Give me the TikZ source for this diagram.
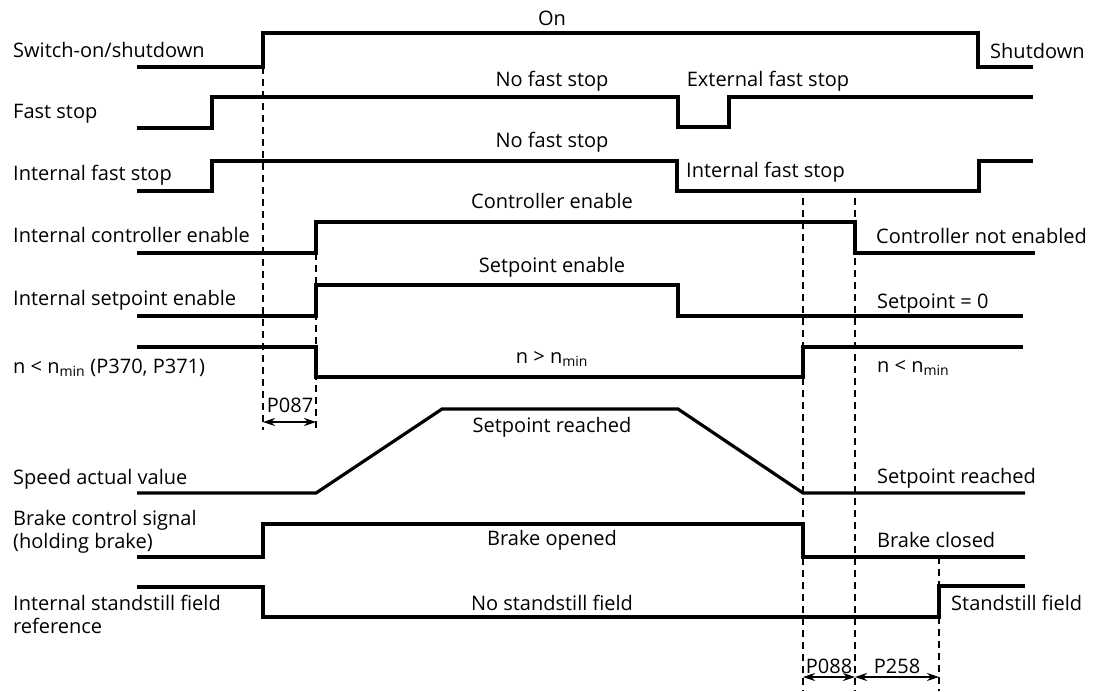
\documentclass[tikz,border=0pt]{standalone}
\usepackage{fontspec}
\setmainfont{Open Sans}
\usetikzlibrary{arrows.meta}

\begin{document}
\begin{tikzpicture}[
    x=1pt, y=-1pt,
    sig/.style={line width=3.2pt, line join=miter},
    guide/.style={line width=1.6pt, dash pattern=on 7pt off 5pt},
    dim/.style={{Stealth[length=12pt,width=8pt]}-{Stealth[length=12pt,width=8pt]}, line width=1.6pt},
    lbl/.style={anchor=base west, inner sep=0pt, font=\fontsize{20}{24}\selectfont},
    txt/.style={anchor=base, inner sep=0pt, font=\fontsize{20}{24}\selectfont}
]
\useasboundingbox (0,0) rectangle (1100,691);

% signal names
\node[lbl] (swName) at (13,57) {Switch-on/shutdown};
\node[lbl] (fsName) at (13,118) {Fast stop};
\node[lbl] (ifsName) at (13,180) {Internal fast stop};
\node[lbl] (iceName) at (13,242) {Internal controller enable};
\node[lbl] (iseName) at (13,305) {Internal setpoint enable};
\node[lbl] (nminName) at (13,373) {n < n\textsubscript{min} (P370, P371)};
\node[lbl] (speedName) at (13,484) {Speed actual value};
\node[lbl] (brakeName) at (13,525) {Brake control signal};
\node[lbl] (brakeName2) at (13,548) {(holding brake)};
\node[lbl] (ssfName) at (13,610) {Internal standstill field};
\node[lbl] (ssfName2) at (13,633) {reference};

% signals
\draw[sig] (137,67) -- (263,67) -- (263,33) -- (978,33) -- (978,67) -- (1033,67);
\draw[sig] (137,128) -- (212,128) -- (212,97) -- (678,97) -- (678,127) -- (729,127) -- (729,97) -- (1033,97);
\draw[sig] (137,191) -- (212,191) -- (212,161) -- (677,161) -- (677,191) -- (979,191) -- (979,161) -- (1033,161);
\draw[sig] (137,253) -- (316,253) -- (316,222) -- (855,222) -- (855,253) -- (1035,253);
\draw[sig] (137,316) -- (316,316) -- (316,285) -- (678,285) -- (678,316) -- (1023,316);
\draw[sig] (137,347) -- (316,347) -- (316,377) -- (803,377) -- (803,347) -- (1023,347);
\draw[sig] (137,493) -- (316,493) -- (442,409) -- (678,409) -- (803,493) -- (1025,493);
\draw[sig] (137,557) -- (263,557) -- (263,524) -- (803,524) -- (803,557) -- (1025,557);
\draw[sig] (137,587) -- (263,587) -- (263,617) -- (939,617) -- (939,586) -- (1025,586);

% state texts
\node[txt] (on) at (552,25) {On};
\node[lbl] (shutdown) at (990,58) {Shutdown};
\node[txt] (noFs) at (552,86) {No fast stop};
\node[txt] (extFs) at (768,86) {External fast stop};
\node[txt] (noIfs) at (552,147) {No fast stop};
\node[lbl] (intFs) at (686,177) {Internal fast stop};
\node[txt] (ctrlEn) at (552,208) {Controller enable};
\node[lbl] (ctrlNotEn) at (876,243) {Controller not enabled};
\node[txt] (spEn) at (552,272) {Setpoint enable};
\node[lbl] (spZero) at (877,308) {Setpoint = 0};
\node[txt] (nAbove) at (552,363) {n > n\textsubscript{min}};
\node[lbl] (nBelow) at (877,372) {n < n\textsubscript{min}};
\node[txt] (spReached) at (552,432) {Setpoint reached};
\node[lbl] (spReached2) at (877,483) {Setpoint reached};
\node[txt] (brOpen) at (552,545) {Brake opened};
\node[lbl] (brClosed) at (877,547) {Brake closed};
\node[txt] (noSsf) at (552,610) {No standstill field};
\node[lbl] (ssf) at (951,610) {Standstill field};

% timing guides
\draw[guide] (263,67) -- (263,430);
\draw[guide] (316,253) -- (316,430);
\draw[guide] (803,198) -- (803,691);
\draw[guide] (855,198) -- (855,691);
\draw[guide] (939,557) -- (939,691);

% delay times
\coordinate (p087L) at (263,422);
\coordinate (p087R) at (316,422);
\coordinate (p088L) at (803,677);
\coordinate (p088R) at (855,677);
\coordinate (p258R) at (939,677);
\draw[dim] (p087L) -- (p087R);
\draw[dim] (p088L) -- (p088R);
\draw[dim] (p088R) -- (p258R);
\node[txt] (p087) at (290,412) {P087};
\node[txt] (p088) at (829,673) {P088};
\node[txt] (p258) at (897,673) {P258};
\end{tikzpicture}
\end{document}
